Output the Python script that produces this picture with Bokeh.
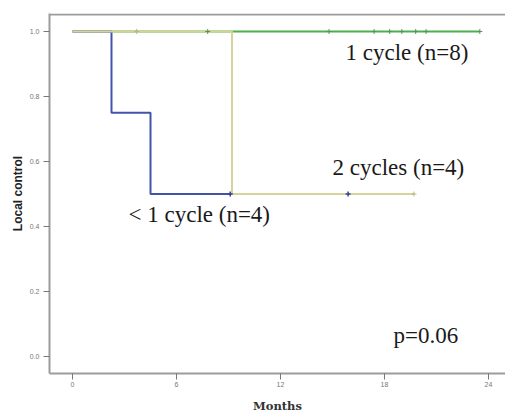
from bokeh.plotting import figure
from bokeh.models import Range1d, FixedTicker, Label, NumeralTickFormatter, Span
from bokeh.embed import file_html
from bokeh.resources import INLINE

# Kaplan-Meier data (months, local control)
lt1_times = [0, 2.25, 4.5, 15.9]
lt1_surv = [1.0, 0.75, 0.5, 0.5]
lt1_cens_t = [9.1, 15.9]
lt1_cens_s = [0.5, 0.5]

one_times = [0, 23.5]
one_surv = [1.0, 1.0]
one_cens_t = [7.8, 14.8, 17.4, 18.3, 19.0, 19.8, 20.4, 23.5]
one_cens_s = [1.0, 1.0, 1.0, 1.0, 1.0, 1.0, 1.0, 1.0]

two_times = [0, 9.2, 19.7]
two_surv = [1.0, 0.5, 0.5]
two_cens_t = [3.7, 19.7]
two_cens_s = [1.0, 0.5]

x_ticks = [0, 6, 12, 18, 24]
y_ticks = [0.0, 0.2, 0.4, 0.6, 0.8, 1.0]

BLUE = "#4253a9"
YELLOW = "#d6d49a"
GREEN = "#4bb04f"

Y_TOP = 1.0554
p = figure(width=505, height=419, output_backend="svg", toolbar_location=None,
           x_range=Range1d(-1.327, 24.98), y_range=Range1d(-0.0523, Y_TOP),
           min_border_left=49, min_border_right=0, min_border_top=13, min_border_bottom=46)
p.outline_line_color = None
p.xgrid.visible = False
p.ygrid.visible = False
p.background_fill_color = "white"

# top border of the plot area
p.add_layout(Span(location=Y_TOP - 0.003, dimension="width", line_color="#9c9c9c", line_width=2))

# curves
p.step(one_times, one_surv, mode="after", line_color=GREEN, line_width=2)
p.step(lt1_times, lt1_surv, mode="after", line_color=BLUE, line_width=2)
p.step(two_times, two_surv, mode="after", line_color=YELLOW, line_width=2)

# censor marks
p.scatter(one_cens_t, one_cens_s, marker="cross", size=5, line_color="#5f8f60", line_width=1)
p.scatter(two_cens_t, two_cens_s, marker="cross", size=5, line_color="#b9b684", line_width=1)
p.scatter(lt1_cens_t, lt1_cens_s, marker="cross", size=5, line_color="#34449a", line_width=1.5)

# axes styling
for ax in (p.xaxis[0], p.yaxis[0]):
    ax.axis_line_color = "#9c9c9c"
    ax.axis_line_width = 2
    ax.major_tick_line_color = "#777777"
    ax.major_tick_out = 6
    ax.major_tick_in = 0
    ax.minor_tick_out = 0
    ax.minor_tick_in = 0
    ax.major_label_text_font_size = "7px"
    ax.major_label_text_color = "#777777"
    ax.major_label_text_font = "Liberation Sans"

p.xaxis.ticker = FixedTicker(ticks=x_ticks)
p.yaxis.ticker = FixedTicker(ticks=y_ticks)
p.yaxis.formatter = NumeralTickFormatter(format="0.0")
p.xaxis.major_label_standoff = 2
p.yaxis.major_label_standoff = 4

p.xaxis.axis_label = "Months"
p.xaxis.axis_label_text_font = "DejaVu Serif"
p.xaxis.axis_label_text_font_style = "bold"
p.xaxis.axis_label_text_font_size = "11.5px"
p.xaxis.axis_label_text_color = "#333333"
p.xaxis.axis_label_standoff = 9

p.yaxis.axis_label = "Local control"
p.yaxis.axis_label_text_font = "Liberation Sans"
p.yaxis.axis_label_text_font_style = "bold"
p.yaxis.axis_label_text_font_size = "12px"
p.yaxis.axis_label_text_color = "#222222"
p.yaxis.axis_label_standoff = 2

# annotations
font = "Liberation Serif"
for txt, x, y in [("1 cycle (n=8)", 15.75, 0.935),
                  ("2 cycles (n=4)", 15.0, 0.582),
                  ("< 1 cycle (n=4)", 3.23, 0.437),
                  ("p=0.06", 18.52, 0.065)]:
    p.add_layout(Label(x=x, y=y, text=txt, text_font=font, text_font_size="23px",
                       text_color="#1a1a1a", text_align="left", text_baseline="middle"))

open("out.html", "w").write(file_html(p, INLINE))
